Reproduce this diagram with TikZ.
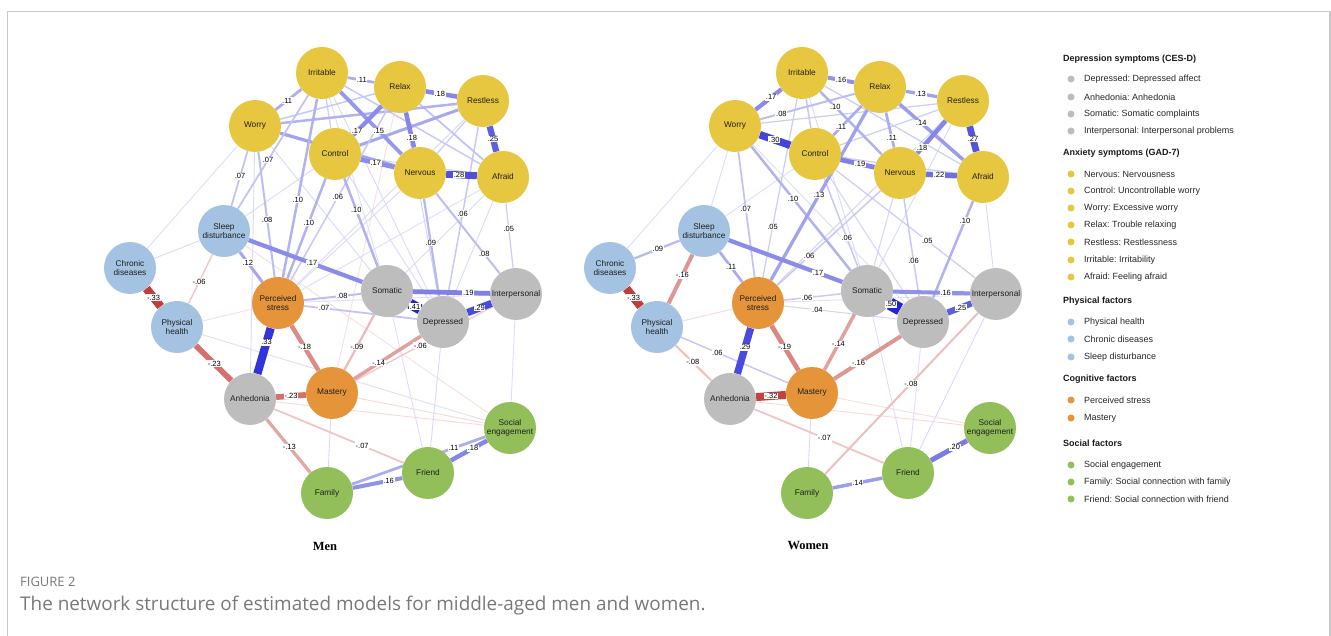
\documentclass[tikz,border=0pt]{standalone}
\usepackage{fontspec}
\newfontfamily\arialf{Liberation Sans}
\newfontfamily\timesf{Liberation Serif}
\newfontfamily\capf{Open Sans}
\usetikzlibrary{calc,positioning}
\frenchspacing

\definecolor{anxc}{RGB}{231,199,64}
\definecolor{depc}{RGB}{189,189,189}
\definecolor{phyc}{RGB}{164,194,226}
\definecolor{cogc}{RGB}{229,148,58}
\definecolor{socc}{RGB}{146,191,90}
\definecolor{posc}{RGB}{35,35,215}
\definecolor{negc}{RGB}{190,45,40}
\definecolor{framec}{RGB}{200,200,200}
\definecolor{capc}{RGB}{120,120,120}

\pgfdeclarelayer{edges}
\pgfdeclarelayer{labels}
\pgfsetlayers{edges,main,labels}

\begin{document}
\begin{tikzpicture}[x=1pt,y=-1pt,
    sym/.style={circle,minimum size=52pt,inner sep=0pt,align=center,text=black!88,
      font=\arialf\fontsize{8.3}{9.6}\selectfont},
    anxnode/.style={sym,fill=anxc},
    depnode/.style={sym,fill=depc},
    phynode/.style={sym,fill=phyc},
    cognode/.style={sym,fill=cogc},
    socnode/.style={sym,fill=socc},
    elab/.style={fill=white,inner sep=0.7pt,font=\arialf\fontsize{7.5}{7.5}\selectfont},
    wt/.code={%
      \pgfmathsetmacro\wabs{abs(#1)}%
      \pgfmathsetmacro\wlw{max(0.9,25*\wabs)}%
      \pgfmathsetmacro\wint{min(100,10+250*\wabs)}%
      \pgfmathtruncatemacro\wneg{(#1)<0}%
      \ifnum\wneg=1 \def\wcol{negc}\else\def\wcol{posc}\fi
      \pgfkeysalso{draw=\wcol!\wint!white,line width=\wlw pt}},
    lhead/.style={anchor=west,inner sep=0pt,text=black!90,
      font=\arialf\bfseries\fontsize{9}{10}\selectfont},
    litem/.style={anchor=west,inner sep=0pt,text=black!85,
      font=\arialf\fontsize{9}{10}\selectfont},
    ldot/.style={circle,inner sep=0pt,minimum size=7pt},
    title/.style={font=\timesf\bfseries\fontsize{12.5}{14}\selectfont}
  ]
  \useasboundingbox (0,0) rectangle (1331,636);
  \draw[framec,line width=1.2pt] (7.5,636) -- (7.5,11.5) -- (1330,11.5) -- (1330,636);

  % nodes, same layout for both groups
  \foreach \g/\dx in {m/0,w/480}{
    \begin{scope}[xshift=\dx]
      \node[anxnode] (\g-irr) at (322,73) {Irritable};
      \node[anxnode] (\g-rel) at (400,87) {Relax};
      \node[anxnode] (\g-res) at (483,101) {Restless};
      \node[anxnode] (\g-wor) at (255,126) {Worry};
      \node[anxnode] (\g-con) at (335,154) {Control};
      \node[anxnode] (\g-ner) at (420,173) {Nervous};
      \node[anxnode] (\g-afr) at (503,177) {Afraid};
      \node[phynode] (\g-slp) at (224,231) {Sleep\\disturbance};
      \node[phynode] (\g-chr) at (130,268) {Chronic\\diseases};
      \node[phynode] (\g-phy) at (177,327) {Physical\\health};
      \node[cognode] (\g-per) at (278,303) {Perceived\\stress};
      \node[cognode] (\g-mas) at (332,393) {Mastery};
      \node[depnode] (\g-som) at (387,291) {Somatic};
      \node[depnode] (\g-int) at (516,294) {Interpersonal};
      \node[depnode] (\g-dep) at (443,322) {Depressed};
      \node[depnode] (\g-anh) at (250,399) {Anhedonia};
      \node[socnode] (\g-soc) at (510,428) {Social\\engagement};
      \node[socnode] (\g-fri) at (428,473) {Friend};
      \node[socnode] (\g-fam) at (327,493) {Family};
    \end{scope}
  }

  % faint edges, men
  \begin{pgfonlayer}{edges}
  \foreach \a/\b/\w in {chr/wor/.02,chr/slp/.03,slp/con/.03,phy/soc/.02,phy/per/-.02,
      slp/soc/-.02,rel/mas/-.02,per/afr/.02,per/ner/.03,per/res/.03,wor/anh/.03,
      anh/soc/-.03,mas/soc/-.03,mas/fam/.03,dep/fri/.03,int/soc/.02,som/fri/.02,
      per/int/.02,irr/som/.02,wor/som/.03,afr/som/.03,irr/dep/.03,con/dep/.03,
      afr/dep/.03,rel/dep/.04,con/afr/.04,irr/res/.04,res/ner/.05,irr/con/.05,
      irr/afr/.06,wor/rel/.06,rel/afr/.07,wor/res/.10,res/con/.12,wor/ner/.13}
    \path[wt=\w] (m-\a) -- (m-\b);
  % faint edges, women
  \foreach \a/\b/\w in {chr/wor/.02,wor/slp/.02,slp/con/.02,phy/per/-.03,anh/soc/-.03,
      mas/soc/-.02,mas/fam/.03,dep/fri/.02,int/fri/.03,som/fri/.02,int/per/.02,
      irr/som/.03,res/som/.03,afr/int/.03,wor/dep/.02,con/dep/.04,ner/som/.04,
      per/res/.04,wor/ner/.04,irr/res/.04,con/res/.05,con/afr/.05,irr/afr/.05,
      wor/res/.05,irr/con/.06}
    \path[wt=\w] (w-\a) -- (w-\b);
  \end{pgfonlayer}

  % labelled edges, men
  \foreach \a/\b/\w/\p in {afr/int/.05/.44,slp/phy/-.06/.53,int/mas/-.06/.52,
      rel/per/.06/.51,res/dep/.06/.51,irr/slp/.07/.55,wor/slp/.07/.48,
      per/dep/.07/.28,anh/fri/-.07/.63,wor/per/.08/.53,ner/int/.08/.67,
      per/som/.08/.59,som/mas/-.09/.55,ner/dep/.09/.47,irr/per/.10/.55,
      con/per/.10/.46,con/som/.10/.41,irr/rel/.11/.51,irr/wor/.11/.52,
      soc/fam/.11/.31,slp/per/.12/.44,anh/fam/-.13/.51,dep/mas/-.14/.58,
      irr/ner/.15/.58,fam/fri/.16/.61,rel/con/.17/.66,con/ner/.17/.48,
      slp/som/.17/.54,rel/res/.18/.48,rel/ner/.18/.59,per/mas/-.18/.49,
      soc/fri/.18/.45,som/int/.19/.63,phy/anh/-.23/.51,anh/mas/-.23/.5,
      res/afr/.25/.5,ner/afr/.28/.47,dep/int/.29/.5,per/anh/.33/.41,
      chr/phy/-.33/.5,som/dep/.41/.5}{
    \begin{pgfonlayer}{edges}
      \path[wt=\w] (m-\a) -- (m-\b);
    \end{pgfonlayer}
    \begin{pgfonlayer}{labels}
      \node[elab] (m-\a-\b) at ($(m-\a)!\p!(m-\b)$) {\w};
    \end{pgfonlayer}
  }

  % labelled edges, women
  \foreach \a/\b/\w/\p in {per/dep/.04/.36,irr/per/.05/.67,con/int/.05/.62,
      con/som/.06/.61,ner/per/.06/.64,ner/dep/.06/.59,per/som/.06/.45,
      phy/mas/.06/.39,wor/per/.07/.47,anh/fri/-.07/.53,wor/rel/.08/.32,
      phy/anh/-.08/.49,int/fam/-.08/.45,chr/slp/.09/.51,irr/ner/.10/.34,
      wor/som/.10/.44,afr/dep/.10/.30,rel/con/.11/.6,rel/ner/.11/.59,
      slp/per/.11/.5,rel/res/.13/.49,rel/per/.13/.5,rel/afr/.14/.4,
      som/mas/-.14/.52,fam/fri/.14/.5,irr/rel/.16/.5,slp/phy/-.16/.46,
      som/int/.16/.61,dep/mas/-.16/.58,irr/wor/.17/.46,slp/som/.17/.7,
      res/ner/.18/.65,con/ner/.19/.53,per/mas/-.19/.49,soc/fri/.20/.43,
      ner/afr/.22/.47,dep/int/.25/.52,res/afr/.27/.5,per/anh/.29/.46,
      wor/con/.30/.49,anh/mas/-.32/.5,chr/phy/-.33/.5,som/dep/.50/.43}{
    \begin{pgfonlayer}{edges}
      \path[wt=\w] (w-\a) -- (w-\b);
    \end{pgfonlayer}
    \begin{pgfonlayer}{labels}
      \node[elab] (w-\a-\b) at ($(w-\a)!\p!(w-\b)$) {\w};
    \end{pgfonlayer}
  }

  \node[title] (tmen) at (325,546) {Men};
  \node[title] (twomen) at (808,546) {Women};

  %legend
  \node[lhead] (hdep) at (1063,59) {Depression symptoms (CES-D)};
  \node[lhead] (hanx) at (1063,153) {Anxiety symptoms (GAD-7)};
  \node[lhead] (hphy) at (1063,301) {Physical factors};
  \node[lhead] (hcog) at (1063,379) {Cognitive factors};
  \node[lhead] (hsoc) at (1063,443) {Social factors};
  \foreach \y/\c/\txt in {79/depc/Depressed: Depressed affect,97/depc/Anhedonia: Anhedonia,
      114/depc/Somatic: Somatic complaints,131/depc/Interpersonal: Interpersonal problems,
      174/anxc/Nervous: Nervousness,191/anxc/Control: Uncontrollable worry,
      208/anxc/Worry: Excessive worry,225/anxc/Relax: Trouble relaxing,
      242/anxc/Restless: Restlessness,260/anxc/Irritable: Irritability,
      277/anxc/Afraid: Feeling afraid,322/phyc/Physical health,339/phyc/Chronic diseases,
      357/phyc/Sleep disturbance,400/cogc/Perceived stress,418/cogc/Mastery,
      465/socc/Social engagement,482/socc/Family: Social connection with family,
      499/socc/Friend: Social connection with friend}{
    \node[ldot,fill=\c] (dot\y) at (1071,\y) {};
    \node[litem] (item\y) at (1084,\y) {\txt};
  }

  %caption
  \node[anchor=west,inner sep=0pt,text=capc,font=\capf\fontsize{13}{15}\selectfont]
    (fig) at (20,582) {FIGURE 2};
  \node[anchor=west,inner sep=0pt,text=capc,font=\capf\fontsize{18.9}{22}\selectfont]
    (cap) at (20,606) {The network structure of estimated models for middle-aged men and women.};
\end{tikzpicture}
\end{document}
